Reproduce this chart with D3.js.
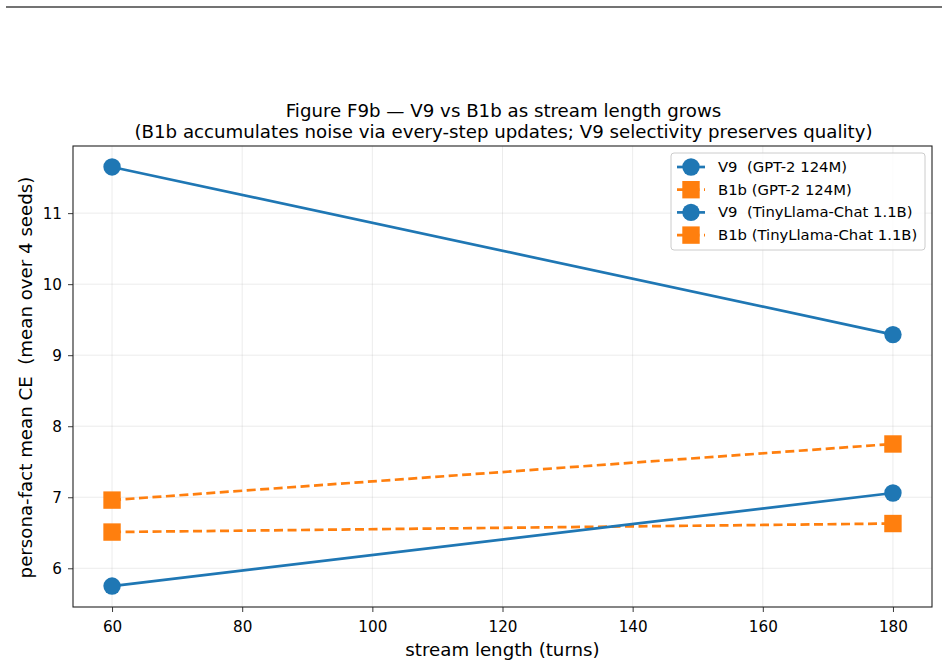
<!DOCTYPE html>
<html><head><meta charset="utf-8">
<script src="https://cdn.jsdelivr.net/npm/d3@7"></script>
<style>body{margin:0;background:#fff;} svg{display:block;font-family:"DejaVu Sans",sans-serif;} text{white-space:pre;}</style>
</head><body><svg id="c" width="948" height="666"></svg>
<script>
const streamLengths = [60, 180];
const v9Gpt2 = [11.65, 9.29];
const b1bGpt2 = [6.51, 6.63];
const v9TinyLlama = [5.75, 7.06];
const b1bTinyLlama = [6.96, 7.75];
const xTicks = [60, 80, 100, 120, 140, 160, 180];
const yTicks = [6, 7, 8, 9, 10, 11];
const seriesNames = ["V9  (GPT-2 124M)", "B1b (GPT-2 124M)", "V9  (TinyLlama-Chat 1.1B)", "B1b (TinyLlama-Chat 1.1B)"];
const titleLines = ["Figure F9b \u2014 V9 vs B1b as stream length grows", "(B1b accumulates noise via every-step updates; V9 selectivity preserves quality)"];

const series = [
  {name: seriesNames[0], vals: v9Gpt2, color: "#1f77b4", marker: "circle", dash: null},
  {name: seriesNames[1], vals: b1bGpt2, color: "#ff7f0e", marker: "square", dash: "9,4.5"},
  {name: seriesNames[2], vals: v9TinyLlama, color: "#1f77b4", marker: "circle", dash: null},
  {name: seriesNames[3], vals: b1bTinyLlama, color: "#ff7f0e", marker: "square", dash: "9,4.5"}
];

const svg = d3.select("#c");
const L = 73, R = 932, T = 146, B = 607;
const FT = 18.2, FS = 14.8, FK = 15.2;

// top rule
svg.append("line").attr("x1", 6).attr("x2", 942).attr("y1", 7).attr("y2", 7).attr("stroke", "#444").attr("stroke-width", 1.5);

const xMin = d3.min(streamLengths), xMax = d3.max(streamLengths);
const xPad = (xMax - xMin) * 0.05;
const x = d3.scaleLinear().domain([xMin - xPad, xMax + xPad]).range([L, R]);
const allY = series.flatMap(s => s.vals);
const yMin = d3.min(allY), yMax = d3.max(allY);
const yPad = (yMax - yMin) * 0.05;
const y = d3.scaleLinear().domain([yMin - yPad, yMax + yPad]).range([B, T]);

// grid
const g = svg.append("g");
g.selectAll(".gx").data(xTicks).join("line")
  .attr("x1", d => x(d)).attr("x2", d => x(d)).attr("y1", T).attr("y2", B)
  .attr("stroke", "#b0b0b0").attr("stroke-opacity", 0.3).attr("stroke-width", 0.8);
g.selectAll(".gy").data(yTicks).join("line")
  .attr("y1", d => y(d)).attr("y2", d => y(d)).attr("x1", L).attr("x2", R)
  .attr("stroke", "#b0b0b0").attr("stroke-opacity", 0.3).attr("stroke-width", 0.8);

// axes
const xAxis = svg.append("g").attr("transform", `translate(0,${B})`)
  .call(d3.axisBottom(x).tickValues(xTicks).tickSize(5).tickPadding(9).tickFormat(d3.format("d")));
const yAxis = svg.append("g").attr("transform", `translate(${L},0)`)
  .call(d3.axisLeft(y).tickValues(yTicks).tickSize(5).tickPadding(6).tickFormat(d3.format("d")));
[xAxis, yAxis].forEach(a => {
  a.attr("font-size", FK).attr("font-family", "DejaVu Sans");
  a.select(".domain").remove();
  a.selectAll("text").attr("fill", "#000").attr("font-size", FK);
  a.selectAll("line").attr("stroke", "#222").attr("stroke-width", 0.9);
});

// lines + markers
const line = d3.line().x((d, i) => x(streamLengths[i])).y(d => y(d));
series.forEach(s => {
  svg.append("path").datum(s.vals).attr("d", line).attr("fill", "none")
    .attr("stroke", s.color).attr("stroke-width", 2.7)
    .attr("stroke-dasharray", s.dash);
  s.vals.forEach((v, i) => {
    if (s.marker === "circle") {
      svg.append("circle").attr("cx", x(streamLengths[i])).attr("cy", y(v)).attr("r", 8.7).attr("fill", s.color);
    } else {
      svg.append("rect").attr("x", x(streamLengths[i]) - 8.7).attr("y", y(v) - 8.7)
        .attr("width", 17.4).attr("height", 17.4).attr("fill", s.color);
    }
  });
});

// frame
svg.append("rect").attr("x", L).attr("y", T).attr("width", R - L).attr("height", B - T)
  .attr("fill", "none").attr("stroke", "#222").attr("stroke-width", 1.1);

// titles
svg.selectAll(".title").data(titleLines).join("text")
  .attr("x", (L + R) / 2 + 1).attr("y", (d, i) => 117 + i * 20.5)
  .attr("text-anchor", "middle").attr("font-size", FT).attr("fill", "#000").text(d => d);

svg.append("text").attr("x", (L + R) / 2).attr("y", 656).attr("text-anchor", "middle")
  .attr("font-size", FT).attr("fill", "#000").text("stream length (turns)");
svg.append("text").attr("transform", `translate(32,${(T + B) / 2 + 1}) rotate(-90)`)
  .attr("text-anchor", "middle").attr("font-size", FT).attr("fill", "#000")
  .text("persona-fact mean CE  (mean over 4 seeds)");

// legend
const lg = svg.append("g");
lg.append("rect").attr("x", 671).attr("y", 153).attr("width", 254).attr("height", 97).attr("rx", 3)
  .attr("fill", "#fff").attr("fill-opacity", 0.8).attr("stroke", "#ccc").attr("stroke-width", 1);
series.forEach((s, i) => {
  const cy = 167 + i * 22.7;
  lg.append("line").attr("x1", 677).attr("x2", 705).attr("y1", cy).attr("y2", cy)
    .attr("stroke", s.color).attr("stroke-width", 2.7).attr("stroke-dasharray", s.dash);
  if (s.marker === "circle") lg.append("circle").attr("cx", 691).attr("cy", cy).attr("r", 8.7).attr("fill", s.color);
  else lg.append("rect").attr("x", 682.3).attr("y", cy - 8.7).attr("width", 17.4).attr("height", 17.4).attr("fill", s.color);
  lg.append("text").attr("x", 718).attr("y", cy + 5).attr("font-size", FS).attr("fill", "#000").text(s.name);
});
</script></body></html>
